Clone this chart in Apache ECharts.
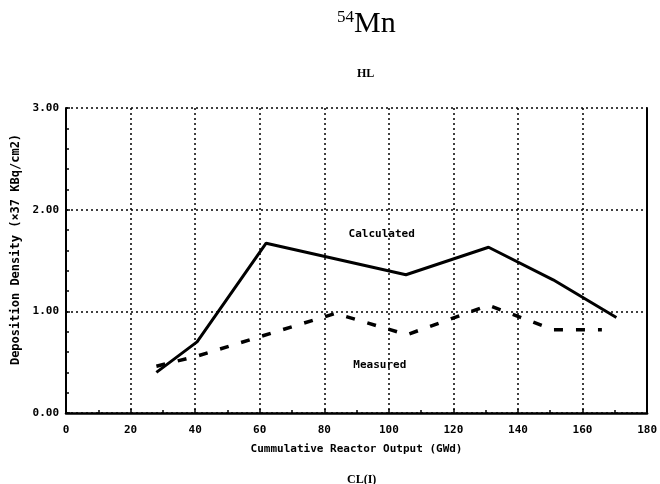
<!DOCTYPE html>
<html>
<head>
<meta charset="utf-8">
<script src="https://cdn.jsdelivr.net/npm/echarts@6/dist/echarts.min.js"></script>
<style>html,body{margin:0;padding:0;background:#fff;}#c{width:660px;height:484px;}</style>
</head>
<body>
<div id="c"></div>
<script>
var xTicks = [0, 20, 40, 60, 80, 100, 120, 140, 160, 180];
var yTicks = [0, 1, 2, 3];
var calcX = [28, 40.6, 62, 105.3, 130.9, 150.9, 170.5];
var calcY = [0.40, 0.70, 1.67, 1.36, 1.63, 1.31, 0.94];
var measX = [28, 40.6, 61, 83.5, 105.6, 130.9, 150.9, 166];
var measY = [0.46, 0.56, 0.76, 0.98, 0.77, 1.06, 0.82, 0.82];
var labelCalc = {text: 'Calculated', x: 97.8, y: 1.76};
var labelMeas = {text: 'Measured', x: 97.2, y: 0.475};

function pairs(xs, ys) { return xs.map(function (v, i) { return [v, ys[i]]; }); }

var mono = '"DejaVu Sans Mono", "Liberation Mono", monospace';
var serif = '"Liberation Serif", "DejaVu Serif", serif';
var chart = echarts.init(document.getElementById('c'));
chart.setOption({
  animation: false,
  backgroundColor: '#fff',
  title: [
    {
      text: '{sup|54}{main|Mn}',
      left: 332, top: 4,
      textStyle: {
        rich: {
          sup: {fontFamily: serif, fontSize: 17, fontWeight: 'normal', color: '#000', verticalAlign: 'top', padding: [0, 0, 10, 0]},
          main: {fontFamily: serif, fontSize: 30, fontWeight: 'normal', color: '#000'}
        }
      }
    },
    {
      text: 'HL', left: 352, top: 63,
      textStyle: {fontFamily: serif, fontSize: 12, fontWeight: 'bold', color: '#000'}
    },
    {
      text: 'CL(I)', left: 342, top: 469,
      textStyle: {fontFamily: serif, fontSize: 12, fontWeight: 'bold', color: '#000'}
    }
  ],
  grid: {left: 66, right: 10, top: 108, bottom: 71, containLabel: false},
  xAxis: {
    type: 'value', min: xTicks[0], max: xTicks[xTicks.length - 1], interval: 20,
    name: 'Cummulative Reactor Output (GWd)', nameLocation: 'middle', nameGap: 31,
    nameTextStyle: {fontFamily: mono, fontSize: 11, fontWeight: 'bold', color: '#000'},
    axisLine: {show: true, lineStyle: {color: '#000', width: 2.5}},
    axisTick: {show: true, inside: true, length: 4, lineStyle: {color: '#000', width: 1.5}},
    minorTick: {show: true, splitNumber: 2, length: 3, lineStyle: {color: '#000', width: 1.5}},
    axisLabel: {fontFamily: mono, fontSize: 11, fontWeight: 'bold', color: '#000', margin: 12},
    splitLine: {show: true, lineStyle: {color: '#000', width: 1.5, type: [2, 3]}}
  },
  yAxis: [{
    type: 'value', min: yTicks[0], max: yTicks[yTicks.length - 1], interval: 1,
    name: 'Deposition Density (\u00d737 KBq/cm2)', nameLocation: 'middle', nameGap: 38,
    nameTextStyle: {fontFamily: mono, fontSize: 12, fontWeight: 'bold', color: '#000', padding: [0, 0, 0, 22]},
    axisLine: {show: true, lineStyle: {color: '#000', width: 2}},
    axisTick: {show: true, inside: true, length: 4, lineStyle: {color: '#000', width: 1.5}},
    minorTick: {show: true, splitNumber: 5, length: 3, lineStyle: {color: '#000', width: 1.5}},
    axisLabel: {fontFamily: mono, fontSize: 11, fontWeight: 'bold', color: '#000', margin: 7,
      formatter: function (v) { return v.toFixed(2); }},
    splitLine: {show: true, lineStyle: {color: '#000', width: 1.5, type: [2, 3]}}
  }, {
    type: 'value', min: yTicks[0], max: yTicks[yTicks.length - 1], interval: 1, position: 'right',
    axisLine: {show: true, lineStyle: {color: '#000', width: 2}},
    axisTick: {show: false},
    axisLabel: {show: false},
    splitLine: {show: false}
  }],
  series: [
    {
      type: 'line', data: pairs(calcX, calcY), symbol: 'none',
      lineStyle: {color: '#000', width: 3},
      markPoint: {
        symbol: 'circle', symbolSize: 0,
        label: {show: true, position: 'inside', formatter: labelCalc.text, fontFamily: mono, fontSize: 11, fontWeight: 'bold', color: '#000'},
        data: [{coord: [labelCalc.x, labelCalc.y]}]
      }
    },
    {
      type: 'line', data: pairs(measX, measY), symbol: 'none',
      lineStyle: {color: '#000', width: 3.5, type: [9, 13]},
      markPoint: {
        symbol: 'circle', symbolSize: 0,
        label: {show: true, position: 'inside', formatter: labelMeas.text, fontFamily: mono, fontSize: 11, fontWeight: 'bold', color: '#000'},
        data: [{coord: [labelMeas.x, labelMeas.y]}]
      }
    }
  ]
});
</script>
</body>
</html>
